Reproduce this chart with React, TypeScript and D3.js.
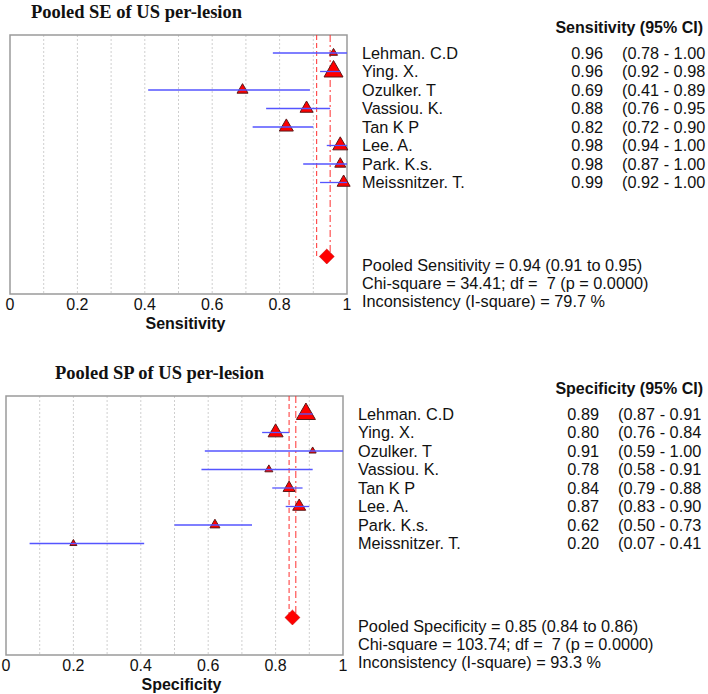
import React from "react";
import * as d3 from "d3";

const studies = ["Lehman. C.D", "Ying. X.", "Ozulker. T", "Vassiou. K.", "Tan K P", "Lee. A.", "Park. K.s.", "Meissnitzer. T."];

const seEst = [0.96, 0.96, 0.69, 0.88, 0.82, 0.98, 0.98, 0.99];
const seLow = [0.78, 0.92, 0.41, 0.76, 0.72, 0.94, 0.87, 0.92];
const seHigh = [1.0, 0.98, 0.89, 0.95, 0.9, 1.0, 1.0, 1.0];
const seWeight = [8, 19, 11, 13, 14, 15, 11, 13];
const sePooled = [0.94, 0.91, 0.95];
const seStats = ["Pooled Sensitivity = 0.94 (0.91 to 0.95)", "Chi-square = 34.41; df =  7 (p = 0.0000)", "Inconsistency (I-square) = 79.7 %"];

const spEst = [0.89, 0.8, 0.91, 0.78, 0.84, 0.87, 0.62, 0.2];
const spLow = [0.87, 0.76, 0.59, 0.58, 0.79, 0.83, 0.5, 0.07];
const spHigh = [0.91, 0.84, 1.0, 0.91, 0.88, 0.9, 0.73, 0.41];
const spWeight = [19, 15, 7, 8, 12, 13, 10, 7];
const spPooled = [0.85, 0.84, 0.86];
const spStats = ["Pooled Specificity = 0.85 (0.84 to 0.86)", "Chi-square = 103.74; df =  7 (p = 0.0000)", "Inconsistency (I-square) = 93.3 %"];

const xTicks = [0, 0.2, 0.4, 0.6, 0.8, 1];
const gridTicks = [0.1, 0.2, 0.3, 0.4, 0.5, 0.6, 0.7, 0.8, 0.9];

const SANS = "'Liberation Sans', Arial, sans-serif";
const SERIF = "'Liberation Serif', 'Times New Roman', serif";

function fmt(v: number) {
  return v.toFixed(2);
}

type PanelProps = {
  dx: number;
  dy: number;
  title: string;
  titleX: number;
  header: string;
  axisLabel: string;
  est: number[];
  low: number[];
  high: number[];
  weight: number[];
  pooled: number[];
  stats: string[];
};

function Panel(p: PanelProps) {
  const left = 6 + p.dx;
  const right = 343 + p.dx;
  const top = 35;
  const bottom = 294;
  const x = d3.scaleLinear().domain([0, 1]).range([left, right]);
  const y = d3.scaleLinear().domain([0, 11]).range([53, 256.5]);
  const tri = (w: number) => d3.symbol().type(d3.symbolTriangle).size((Math.sqrt(3) / 4) * w * w)() as string;
  const diamond = d3.symbol().type(d3.symbolSquare).size(112)() as string;
  const fs = 16.3;
  return (
    <g transform={`translate(0,${p.dy})`}>
      <text x={p.titleX} y={12} dy="0.35em" fontFamily={SERIF} fontWeight="bold" fontSize={18.5} fill="#111">
        {p.title}
      </text>
      {gridTicks.map((t) => (
        <line key={t} x1={x(t)} x2={x(t)} y1={top} y2={bottom} stroke="#cfcfcf" strokeWidth={1} strokeDasharray="2,2" />
      ))}
      <rect x={left} y={top} width={right - left} height={bottom - top} fill="none" stroke="#9a9a9a" strokeWidth={1.5} />
      <line x1={x(p.pooled[1])} x2={x(p.pooled[1])} y1={top} y2={y(11)} stroke="#ff3030" strokeWidth={1} strokeDasharray="5,3" />
      <line x1={x(p.pooled[2])} x2={x(p.pooled[2])} y1={top} y2={y(11)} stroke="#ff3030" strokeWidth={1} strokeDasharray="7,3,2,3" />
      {p.est.map((v, i) => (
        <path key={"t" + i} d={tri(p.weight[i])} transform={`translate(${x(v)},${y(i)})`} fill="#ff0000" stroke="#5a1a1a" strokeWidth={1} />
      ))}
      {p.est.map((v, i) => (
        <line key={"l" + i} x1={x(p.low[i])} x2={x(p.high[i])} y1={y(i)} y2={y(i)} stroke="#5555ff" strokeWidth={1.3} />
      ))}
      <path d={diamond} transform={`translate(${x(p.pooled[0])},${y(11)}) rotate(45)`} fill="#ff0000" stroke="#c00000" strokeWidth={0.5} />
      {xTicks.map((t) => (
        <text key={"x" + t} x={x(t)} y={304} dy="0.35em" textAnchor="middle" fontFamily={SANS} fontSize={16} fill="#111">
          {t === 0 || t === 1 ? String(t) : t.toFixed(1)}
        </text>
      ))}
      <text x={181.5 + p.dx} y={323} dy="0.35em" textAnchor="middle" fontFamily={SANS} fontWeight="bold" fontSize={16} fill="#111">
        {p.axisLabel}
      </text>
      <text x={703} y={27} dy="0.35em" textAnchor="end" fontFamily={SANS} fontWeight="bold" fontSize={16} fill="#111">
        {p.header}
      </text>
      {studies.map((s, i) => (
        <g key={"r" + i}>
          <text x={358 + p.dx} y={y(i)} dy="0.35em" fontFamily={SANS} fontSize={fs} fill="#111">
            {s}
          </text>
          <text x={599 + p.dx} y={y(i)} dy="0.35em" textAnchor="end" fontFamily={SANS} fontSize={fs} fill="#111">
            {fmt(p.est[i])}
          </text>
          <text x={618 + p.dx} y={y(i)} dy="0.35em" fontFamily={SANS} fontSize={fs} fill="#111">
            {`(${fmt(p.low[i])} - ${fmt(p.high[i])}`}
          </text>
        </g>
      ))}
      {p.stats.map((s, i) => (
        <text key={"s" + i} x={358 + p.dx} y={265.5 + i * 18} dy="0.35em" fontFamily={SANS} fontSize={fs} fill="#111" style={{ whiteSpace: "pre" }}>
          {s}
        </text>
      ))}
    </g>
  );
}

export default function App() {
  return (
    <svg width={708} height={694} style={{ position: "absolute", left: 0, top: 0, background: "#fff" }}>
      <Panel
        dx={4}
        dy={0}
        title="Pooled SE of US per-lesion"
        titleX={31}
        header="Sensitivity (95% CI)"
        axisLabel="Sensitivity"
        est={seEst}
        low={seLow}
        high={seHigh}
        weight={seWeight}
        pooled={sePooled}
        stats={seStats}
      />
      <Panel
        dx={0}
        dy={361}
        title="Pooled SP of US per-lesion"
        titleX={55}
        header="Specificity (95% CI)"
        axisLabel="Specificity"
        est={spEst}
        low={spLow}
        high={spHigh}
        weight={spWeight}
        pooled={spPooled}
        stats={spStats}
      />
    </svg>
  );
}
